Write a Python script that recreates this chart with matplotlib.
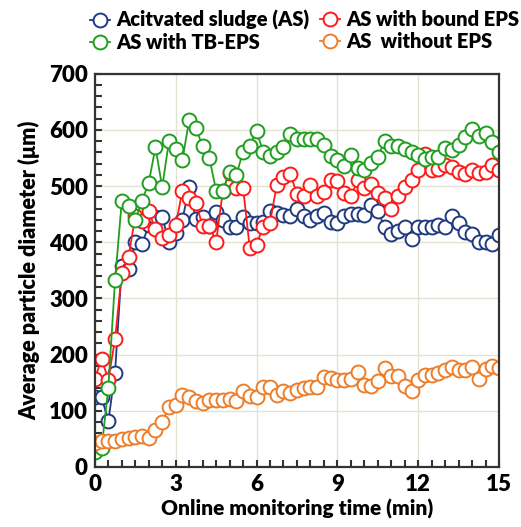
import numpy as np
import matplotlib.pyplot as plt
from matplotlib.ticker import MultipleLocator

plt.rcParams['font.family'] = ['Lato', 'DejaVu Sans']
plt.rcParams['font.weight'] = 'heavy'

# time axis: one reading every 0.25 min
time_min = np.arange(0, 15.01, 0.25)

as_sludge = [125, 125, 81, 168, 357, 352, 400, 397, 430, 445, 445, 400,
             416, 440, 498, 441, 445, 429, 454, 439, 428, 427, 445, 434,
             434, 436, 455, 453, 448, 446, 460, 447, 440, 447, 453, 436,
             434, 446, 450, 451, 449, 466, 455, 428, 415, 420, 428, 405,
             427, 428, 428, 430, 428, 446, 434, 419, 414, 401, 400, 397, 413]

bound_eps = [156, 193, 155, 227, 345, 374, 446, 437, 455, 423, 407, 413,
             430, 492, 478, 470, 429, 429, 401, 492, 524, 497, 497, 389,
             396, 428, 435, 502, 516, 522, 486, 483, 502, 483, 489, 511,
             509, 487, 482, 510, 497, 504, 487, 479, 460, 482, 499, 511,
             529, 557, 529, 531, 537, 534, 525, 521, 529, 524, 525, 538, 529]

tb_eps = [27, 33, 140, 332, 473, 465, 439, 474, 506, 569, 498, 580,
          566, 547, 617, 603, 571, 550, 492, 492, 526, 520, 561, 572,
          599, 560, 553, 561, 569, 593, 584, 584, 584, 584, 574, 554,
          546, 536, 556, 533, 529, 542, 552, 580, 571, 571, 566, 560,
          556, 548, 552, 552, 568, 565, 573, 588, 602, 590, 594, 578, 560]

no_eps = [42, 47, 46, 47, 49, 51, 53, 55, 52, 66, 80, 107,
          111, 128, 124, 118, 113, 120, 120, 120, 121, 117, 135, 126,
          124, 142, 143, 128, 136, 132, 137, 141, 143, 143, 160, 158,
          154, 154, 157, 169, 145, 144, 153, 176, 162, 162, 144, 135,
          154, 164, 164, 167, 172, 178, 173, 172, 178, 157, 175, 179, 176]

series = [
    ('Acitvated sludge (AS)', as_sludge, '#203a80'),
    ('AS with bound EPS', bound_eps, '#ff1a1a'),
    ('AS with TB-EPS', tb_eps, '#1f9e1f'),
    ('AS  without EPS', no_eps, '#ee7d2a'),
]

fig = plt.figure(figsize=(5.21, 5.27), dpi=100)
ax = fig.add_axes([0.182, 0.114, 0.776, 0.746])

handles = {}
for label, vals, col in series:
    h, = ax.plot(time_min, vals, '-o', color=col, lw=1.3, ms=10,
                 mfc='white', mec=col, mew=1.4, label=label)
    handles[label] = h

ax.set_xlim(0, 15)
ax.set_ylim(0, 700)
ax.xaxis.set_major_locator(MultipleLocator(3))
ax.xaxis.set_minor_locator(MultipleLocator(0.5))
ax.yaxis.set_major_locator(MultipleLocator(100))
ax.yaxis.set_minor_locator(MultipleLocator(20))
ax.tick_params(which='both', direction='in', width=1.5, color='#333333',
               labelsize=16, top=False, right=False)
ax.tick_params(which='major', length=5, pad=5)
ax.tick_params(which='minor', length=5)
ax.grid(True, which='major', color='#e4e1d2', lw=1)
ax.set_axisbelow(True)
for s in ax.spines.values():
    s.set_linewidth(1.6)
    s.set_color('#333333')

ax.set_xlabel('Online monitoring time (min)', fontsize=15, fontweight='heavy', labelpad=3)
ax.set_ylabel('Average particle diameter (\u03bcm)', fontsize=15.5, fontweight='heavy', labelpad=6)

legend_cols = [
    (['Acitvated sludge (AS)', 'AS with TB-EPS'], 0.153),
    (['AS with bound EPS', 'AS  without EPS'], 0.595),
]
for labels, x0 in legend_cols:
    leg = fig.legend([handles[k] for k in labels], labels, loc='upper left',
                     bbox_to_anchor=(x0, 1.0), frameon=False, fontsize=14.5,
                     handlelength=1.0, handletextpad=0.3,
                     labelspacing=0.15, borderaxespad=0.1)

fig.savefig('out.png', dpi=100)
